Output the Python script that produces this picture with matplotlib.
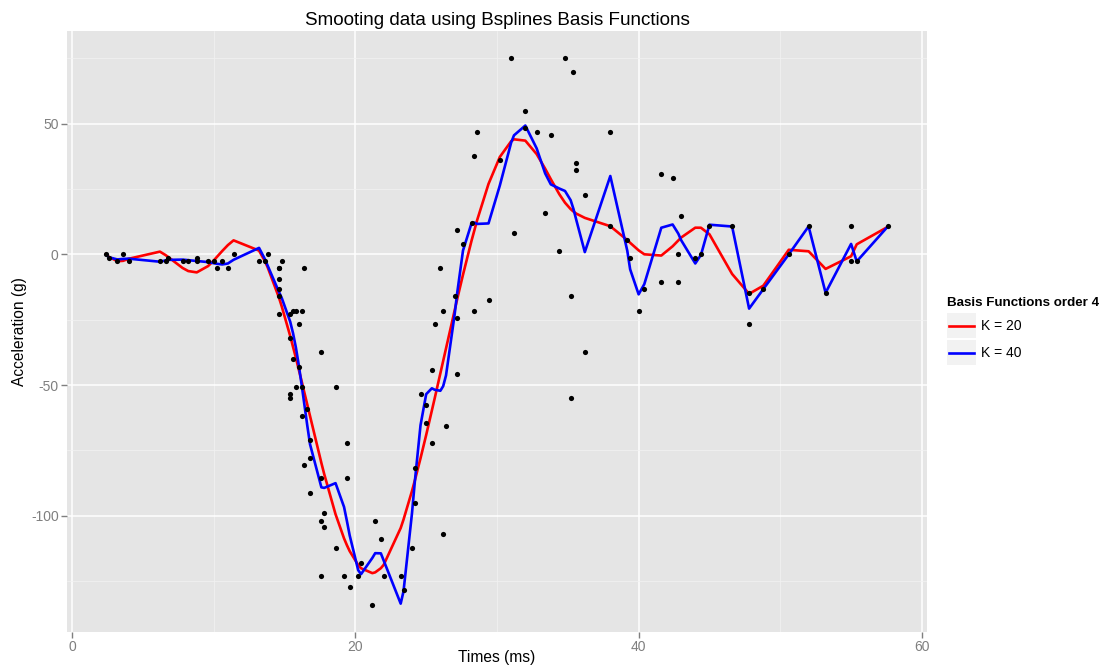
import matplotlib
matplotlib.use('Agg')
import matplotlib.pyplot as plt
from matplotlib.patches import Rectangle
from matplotlib.lines import Line2D
import numpy as np

plt.rcParams['font.family'] = ['Liberation Sans', 'DejaVu Sans']
plt.rcParams['axes.unicode_minus'] = False

# mcycle data: time (ms) and head acceleration (g)
times = [2.4, 2.6, 3.2, 3.6, 4.0, 6.2, 6.6, 6.8, 7.8, 8.2, 8.8, 8.8, 9.6, 10.0, 10.2, 10.6,
         11.0, 11.4, 13.2, 13.6, 13.8, 14.6, 14.6, 14.6, 14.6, 14.6, 14.6, 14.8, 15.4, 15.4,
         15.4, 15.4, 15.6, 15.6, 15.8, 15.8, 16.0, 16.0, 16.2, 16.2, 16.2, 16.4, 16.4, 16.6,
         16.8, 16.8, 16.8, 17.6, 17.6, 17.6, 17.6, 17.8, 17.8, 18.6, 18.6, 19.2, 19.4, 19.4,
         19.6, 20.2, 20.4, 21.2, 21.4, 21.8, 22.0, 23.2, 23.4, 24.0, 24.2, 24.2, 24.6, 25.0,
         25.0, 25.4, 25.4, 25.6, 26.0, 26.2, 26.2, 26.4, 27.0, 27.2, 27.2, 27.2, 27.6, 28.2,
         28.4, 28.4, 28.6, 29.4, 30.2, 31.0, 31.2, 32.0, 32.0, 32.8, 33.4, 33.8, 34.4, 34.8,
         35.2, 35.2, 35.4, 35.6, 35.6, 36.2, 36.2, 38.0, 38.0, 39.2, 39.4, 40.0, 40.4, 41.6,
         41.6, 42.4, 42.8, 42.8, 43.0, 44.0, 44.4, 45.0, 46.6, 47.8, 47.8, 48.8, 50.6, 52.0,
         53.2, 55.0, 55.0, 55.4, 57.6]
accel = [0.0, -1.3, -2.7, 0.0, -2.7, -2.7, -2.7, -1.3, -2.7, -2.7, -1.3, -2.7, -2.7, -2.7,
         -5.4, -2.7, -5.4, 0.0, -2.7, -2.7, 0.0, -13.3, -5.4, -5.4, -9.3, -16.0, -22.8, -2.7,
         -22.8, -32.1, -53.5, -54.9, -40.2, -21.5, -21.5, -50.8, -42.9, -26.8, -21.5, -50.8,
         -61.7, -5.4, -80.4, -59.0, -71.0, -91.1, -77.7, -37.5, -85.6, -123.1, -101.9, -99.1,
         -104.4, -112.5, -50.8, -123.1, -85.6, -72.3, -127.2, -123.1, -117.9, -134.0, -101.9,
         -108.7, -123.1, -123.1, -128.5, -112.5, -95.1, -81.8, -53.5, -64.4, -57.6, -72.3,
         -44.3, -26.8, -5.4, -107.1, -21.5, -65.6, -16.0, -45.6, -24.2, 9.5, 4.0, 12.0, -21.5,
         37.5, 46.9, -17.4, 36.2, 75.0, 8.1, 54.9, 48.2, 46.9, 16.0, 45.6, 1.3, 75.0, -16.0,
         -54.9, 69.6, 34.8, 32.1, -37.5, 22.8, 46.9, 10.7, 5.4, -1.3, -21.5, -13.3, 30.8,
         -10.7, 29.4, 0.0, -10.7, 14.7, -1.3, 0.0, 10.7, 10.7, -26.8, -14.7, -13.3, 0.0, 10.7,
         -14.7, -2.7, 10.7, -2.7, 10.7]

nbasis = [20, 40]
labels = ['K = 20', 'K = 40']
colors = ['#FF0000', '#0000FF']
order = 4


def bspline_basis(x, nb, k, lo, hi):
    # equally spaced breaks, end knots repeated k times
    breaks = np.linspace(lo, hi, nb - k + 2)
    t = np.concatenate([[lo] * (k - 1), breaks, [hi] * (k - 1)])
    x = np.asarray(x, float)
    B = np.zeros((len(x), len(t) - 1))
    for i in range(len(t) - 1):
        if t[i] < t[i + 1]:
            B[:, i] = (x >= t[i]) & (x < t[i + 1])
    # include right end point
    last = np.max(np.where(t[:-1] < t[1:])[0])
    B[x >= hi, :] = 0
    B[x >= hi, last] = 1
    for d in range(2, k + 1):
        Bn = np.zeros((len(x), len(t) - d))
        for i in range(len(t) - d):
            a = t[i + d - 1] - t[i]
            b = t[i + d] - t[i + 1]
            term = 0
            if a > 0:
                term = term + (x - t[i]) / a * B[:, i]
            if b > 0:
                term = term + (t[i + d] - x) / b * B[:, i + 1]
            Bn[:, i] = term
        B = Bn
    return B


x = np.array(times)
y = np.array(accel)

W, H = 1102, 665
fig = plt.figure(figsize=(W / 100, H / 100), dpi=100)
ax = fig.add_axes([0.0608, 0.0496, 0.7804, 0.9038])
ax.set_facecolor('#E5E5E5')

for nb, lab, col in zip(nbasis, labels, colors):
    B = bspline_basis(x, nb, order, x.min(), x.max())
    coef, *_ = np.linalg.lstsq(B, y, rcond=None)
    ax.plot(x, B @ coef, color=col, lw=1.9, label=lab, zorder=3)

ax.scatter(x, y, s=14, color='black', zorder=4, linewidths=0)

ax.set_xlim(-0.36, 60.36)
ax.set_ylim(-144.45, 85.45)
ax.set_xticks([0, 20, 40, 60])
ax.set_yticks([-100, -50, 0, 50])
ax.set_xticks([10, 30, 50], minor=True)
ax.set_yticks([-125, -75, -25, 25, 75], minor=True)
ax.grid(which='major', color='white', lw=1.1, zorder=0)
ax.grid(which='minor', color='#F2F2F2', lw=0.5, zorder=0)
ax.set_axisbelow(True)
for s in ax.spines.values():
    s.set_visible(False)
ax.tick_params(which='major', colors='#7F7F7F', labelsize=10, length=4, width=1, pad=2)
ax.tick_params(which='minor', length=0)

fig.text(0.0608 + 0.7804 / 2, 0.0, 'Times (ms)', fontsize=11.2, ha='center', va='bottom')
ax.set_ylabel('Acceleration (g)', fontsize=11.2, labelpad=3)
ax.set_title('Smooting data using Bsplines Basis Functions', fontsize=13.6, pad=4)

# ggplot-style legend drawn in figure pixels
fig.text(947 / W, 1 - 303 / H, 'Basis Functions order 4', fontsize=9.6,
         fontweight='bold', ha='left', va='center')
for i, (lab, col) in enumerate(zip(labels, colors)):
    top = 313 + i * 27
    fig.add_artist(Rectangle((947 / W, 1 - (top + 25) / H), 29 / W, 25 / H,
                             transform=fig.transFigure, facecolor='#F2F2F2',
                             edgecolor='none'))
    yc = 1 - (top + 13) / H
    fig.add_artist(Line2D([949 / W, 974 / W], [yc, yc], transform=fig.transFigure,
                          color=col, lw=1.9))
    fig.text(981 / W, yc, lab, fontsize=10, ha='left', va='center')

plt.savefig('out.png', dpi=100)
